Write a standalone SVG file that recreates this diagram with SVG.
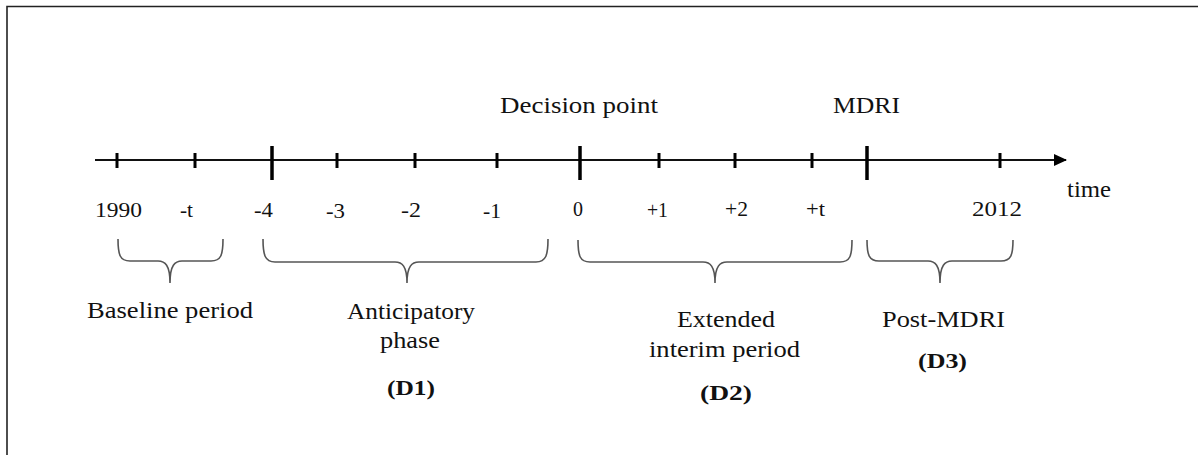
<svg xmlns="http://www.w3.org/2000/svg" width="1198" height="455" viewBox="0 0 1198 455">
<style>
  .t { font-family: "Liberation Serif", "Times New Roman", serif; font-size: 23px; fill: #111; }
  .n { font-family: "Liberation Serif", "Times New Roman", serif; font-size: 22px; fill: #111; }
  .b { font-family: "Liberation Serif", "Times New Roman", serif; font-size: 22px; font-weight: bold; fill: #111; }
  .axis { stroke: #111; stroke-width: 2; fill: none; }
  .tick { stroke: #000; stroke-width: 3; }
  .big { stroke: #000; stroke-width: 3.5; }
  .brace { stroke: #555; stroke-width: 1.6; fill: none; }
  .frame { stroke: #222; stroke-width: 1.6; fill: none; }
</style>
<defs>
  <marker id="arrow" markerWidth="13" markerHeight="12" refX="12" refY="6" orient="auto" markerUnits="userSpaceOnUse">
    <path d="M0,0 L13,6 L0,12 Z" fill="#000"/>
  </marker>
</defs>
<rect width="1198" height="455" fill="#fff"/>
<path class="frame" d="M7,455 V6.5 H1198"/>

<g id="connectors">
  <line class="axis" x1="95" y1="160" x2="1066" y2="160" marker-end="url(#arrow)"/>
  <g id="ticks">
    <line class="tick" x1="117" y1="153" x2="117" y2="168"/>
    <line class="tick" x1="195" y1="153" x2="195" y2="168"/>
    <line class="big" x1="272" y1="146" x2="272" y2="180"/>
    <line class="tick" x1="337" y1="153" x2="337" y2="168"/>
    <line class="tick" x1="415" y1="153" x2="415" y2="168"/>
    <line class="tick" x1="497" y1="153" x2="497" y2="168"/>
    <line class="big" x1="580" y1="146" x2="580" y2="180"/>
    <line class="tick" x1="659" y1="153" x2="659" y2="168"/>
    <line class="tick" x1="735" y1="153" x2="735" y2="168"/>
    <line class="tick" x1="812" y1="153" x2="812" y2="168"/>
    <line class="big" x1="867" y1="146" x2="867" y2="180"/>
    <line class="tick" x1="1000" y1="153" x2="1000" y2="168"/>
  </g>
  <path id="brace-baseline" class="brace" d="M118,239 C118,255 120,261 130,261 H158 C165,261 170,265 170,283 C170,265 175,261 182,261 H211 C221,261 223,255 223,239"/>
  <path id="brace-d1" class="brace" d="M263,239 C263,255 265,262 275,262 H395 C402,262 407,266 407,283 C407,266 412,262 419,262 H536 C546,262 548,255 548,239"/>
  <path id="brace-d2" class="brace" d="M578,240 C578,256 580,262 590,262 H703 C710,262 715,266 715,283 C715,266 720,262 727,262 H840 C850,262 852,256 852,240"/>
  <path id="brace-d3" class="brace" d="M867,240 C867,255 869,261 879,261 H928 C935,261 940,265 940,283 C940,265 945,261 952,261 H1001 C1011,261 1013,255 1013,240"/>
</g>

<g id="top-labels">
  <g id="decision-point"><text class="t" x="500" y="113" textLength="158" lengthAdjust="spacingAndGlyphs">Decision point</text></g>
  <g id="mdri"><text class="t" x="833" y="113" textLength="67" lengthAdjust="spacingAndGlyphs">MDRI</text></g>
  <g id="time"><text class="t" x="1067" y="197" textLength="44" lengthAdjust="spacingAndGlyphs">time</text></g>
</g>

<g id="tick-labels">
  <text class="n" x="95" y="217" textLength="47" lengthAdjust="spacingAndGlyphs">1990</text>
  <text class="n" x="180" y="217" textLength="13" lengthAdjust="spacingAndGlyphs">-t</text>
  <text class="n" x="254" y="217" textLength="19" lengthAdjust="spacingAndGlyphs">-4</text>
  <text class="n" x="326" y="218" textLength="19" lengthAdjust="spacingAndGlyphs">-3</text>
  <text class="n" x="401" y="217" textLength="20" lengthAdjust="spacingAndGlyphs">-2</text>
  <text class="n" x="483" y="218" textLength="18" lengthAdjust="spacingAndGlyphs">-1</text>
  <text class="n" x="573" y="216" textLength="10" lengthAdjust="spacingAndGlyphs">0</text>
  <text class="n" x="647" y="217" textLength="21" lengthAdjust="spacingAndGlyphs">+1</text>
  <text class="n" x="725" y="216" textLength="23" lengthAdjust="spacingAndGlyphs">+2</text>
  <text class="n" x="806" y="216" textLength="19" lengthAdjust="spacingAndGlyphs">+t</text>
  <text class="n" x="972" y="216" textLength="50" lengthAdjust="spacingAndGlyphs">2012</text>
</g>

<g id="baseline-period">
  <text class="t" x="87" y="318" textLength="166" lengthAdjust="spacingAndGlyphs">Baseline period</text>
</g>
<g id="anticipatory-phase">
  <text class="t" x="347" y="319" textLength="128" lengthAdjust="spacingAndGlyphs">Anticipatory</text>
  <text class="t" x="380" y="348" textLength="60" lengthAdjust="spacingAndGlyphs">phase</text>
  <text class="b" x="387" y="395" textLength="48" lengthAdjust="spacingAndGlyphs">(D1)</text>
</g>
<g id="extended-interim">
  <text class="t" x="677" y="327" textLength="98" lengthAdjust="spacingAndGlyphs">Extended</text>
  <text class="t" x="649" y="357" textLength="151" lengthAdjust="spacingAndGlyphs">interim period</text>
  <text class="b" x="700" y="400" textLength="52" lengthAdjust="spacingAndGlyphs">(D2)</text>
</g>
<g id="post-mdri">
  <text class="t" x="882" y="327" textLength="123" lengthAdjust="spacingAndGlyphs">Post-MDRI</text>
  <text class="b" x="918" y="368" textLength="49" lengthAdjust="spacingAndGlyphs">(D3)</text>
</g>
</svg>
